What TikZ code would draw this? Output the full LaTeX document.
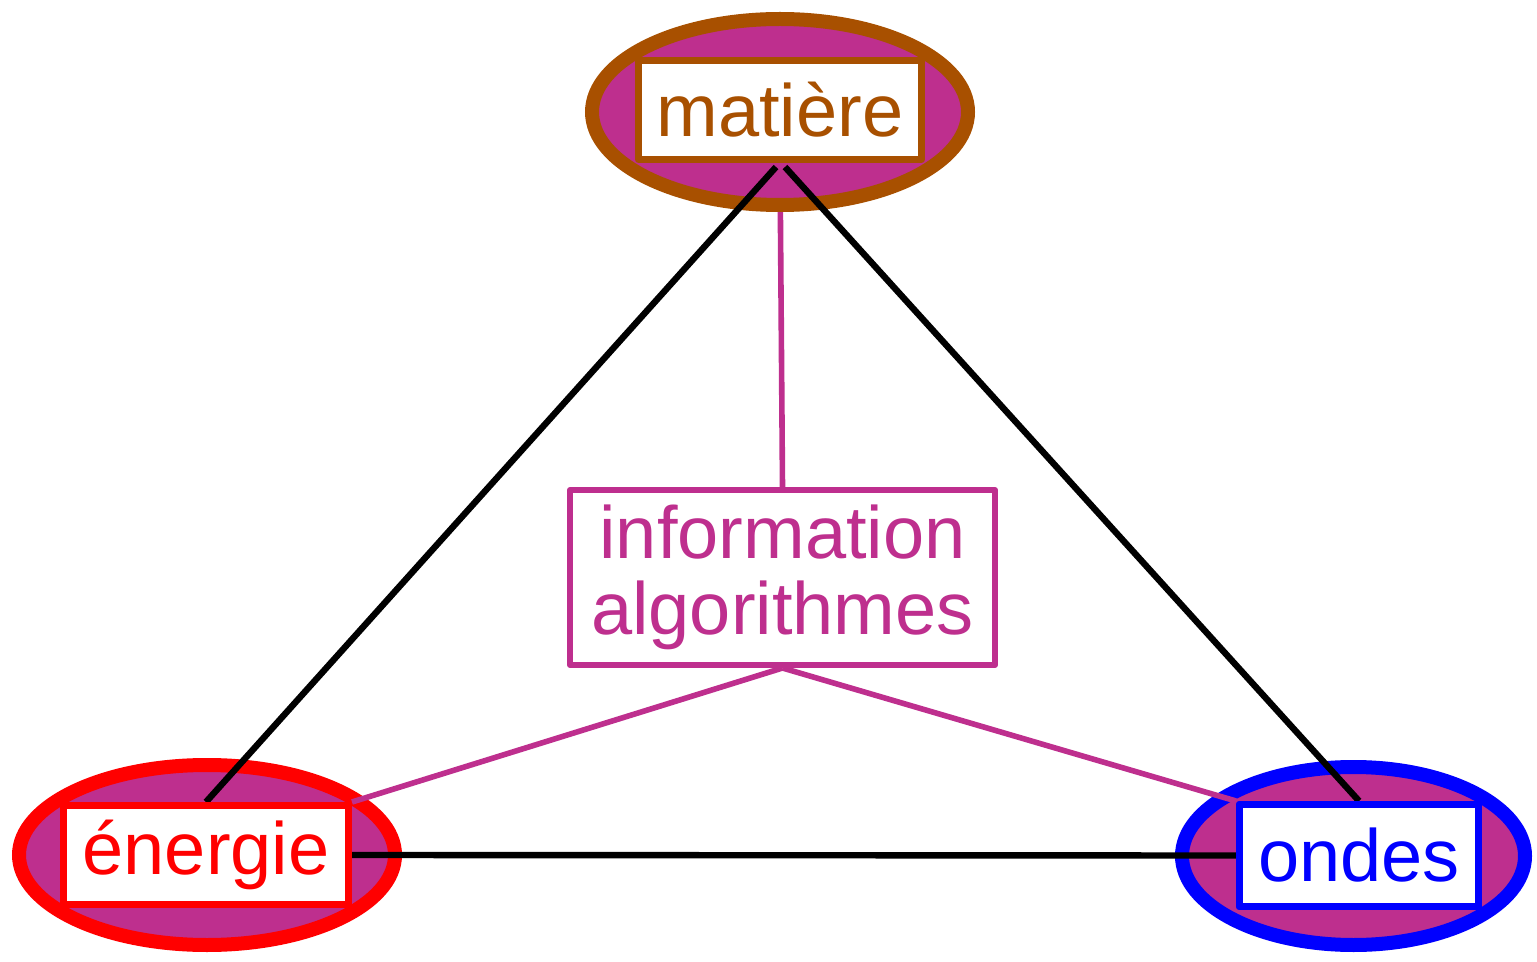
\documentclass[tikz,border=0pt]{standalone}
\usepackage{fontspec}
\setmainfont{Liberation Sans}
\usetikzlibrary{shapes.geometric}
\definecolor{mag}{RGB}{190,47,142}
\definecolor{brn}{RGB}{168,80,0}
\tikzset{
  blob/.style={ellipse, draw, fill=mag, line width=7pt, inner sep=0pt},
  lab/.style={rectangle, draw, fill=white, line width=3.5pt, line join=round, inner sep=0pt, font=\fontsize{37}{38}\selectfont},
  blackline/.style={black, line width=3.2pt},
  magline/.style={mag, line width=2.8pt},
}
\begin{document}
\begin{tikzpicture}[x=0.5pt,y=-0.5pt]
\useasboundingbox (0,0) rectangle (1537,962);
% ellipses
\node[blob, draw=red, minimum width=188pt, minimum height=90pt] (eene) at (207,855) {};
\node[blob, draw=blue, minimum width=171.5pt, minimum height=89pt] (eond) at (1353.5,856) {};
% label boxes
\node[lab, draw=brn, text=brn, minimum width=141.5pt, minimum height=49.5pt] (mat) at (780,110) {matière};
\node[lab, draw=mag, text=mag, line width=3pt, minimum width=212.5pt, minimum height=87.5pt, align=center] (info) at (782.5,577.5) {information\\algorithmes};
% connector behind the top ellipse
\draw[magline] (mat.south) -- (info.north);
\node[blob, draw=brn, minimum width=188pt, minimum height=93pt] (emat) at (780,112) {};
\node[lab, draw=brn, text=brn, minimum width=141.5pt, minimum height=49.5pt] at (mat) {matière};
% positions of lower boxes
\path (206,855) coordinate (enec) (1359,855.5) coordinate (ondc);
\node[lab, draw=red, text=red, minimum width=142.5pt, minimum height=49.5pt] (ene) at (enec) {énergie};
\node[lab, draw=blue, text=blue, minimum width=119.5pt, minimum height=51pt] (ond) at (ondc) {ondes};
% connectors
\draw[blackline] ([xshift=-2pt,yshift=-2pt]mat.south) -- (ene.north);
\draw[blackline] ([xshift=2.5pt,yshift=-2pt]mat.south) -- (ond.north);
\draw[blackline] (ene.east) -- (ond.west);
\draw[magline] (info.south) -- (ene.north east);
\draw[magline] (info.south) -- (ond.north west);
% boxes on top
\node[lab, draw=red, text=red, minimum width=142.5pt, minimum height=49.5pt] at (ene) {énergie};
\node[lab, draw=blue, text=blue, minimum width=119.5pt, minimum height=51pt] at (ond) {ondes};
\end{tikzpicture}
\end{document}
